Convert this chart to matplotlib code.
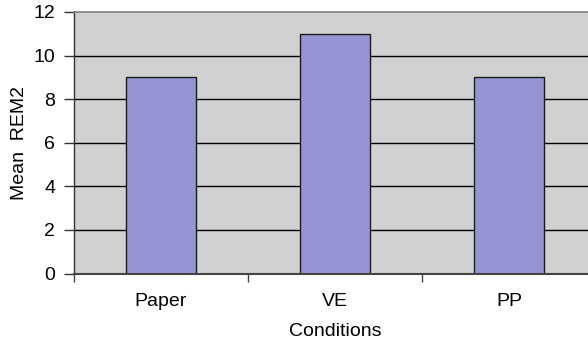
import matplotlib
matplotlib.use("Agg")
import matplotlib.pyplot as plt
import numpy as np

conditions = ["Paper", "VE", "PP"]
mean_rem2 = [9, 11, 9]
y_ticks = [0, 2, 4, 6, 8, 10, 12]

plt.rcParams["font.family"] = ["Liberation Sans", "DejaVu Sans"]

W, H = 588, 344
fig = plt.figure(figsize=(W / 100, H / 100), dpi=100)
left, right, top, bottom = 74, 596, 12, 273.5
ax = fig.add_axes([left / W, (H - bottom) / H, (right - left) / W, (bottom - top) / H])

ax.set_facecolor("#D1D1D1")
x = np.arange(len(conditions))
ax.set_xlim(-0.5, len(conditions) - 0.5)
ax.set_ylim(0, 12)

for yv in y_ticks[1:-1]:
    ax.axhline(yv, color="black", lw=1.0, zorder=1)

ax.bar(x, mean_rem2, width=0.4, color="#9595D3", edgecolor="#1a1a1a",
       linewidth=1.0, zorder=2)

ax.spines["right"].set_visible(False)
ax.spines["top"].set_color("#808080")
ax.spines["top"].set_linewidth(1.2)
ax.spines["left"].set_color("#333333")
ax.spines["bottom"].set_color("#444444")
ax.spines["left"].set_linewidth(1.0)
ax.spines["bottom"].set_linewidth(1.5)

ax.set_yticks(y_ticks)
ax.tick_params(axis="y", direction="out", length=7, width=1.0, color="#333333",
               labelsize=14, pad=6.5)
ax.set_xticks(x)
ax.set_xticklabels(conditions)
ax.set_xticks(np.arange(-0.5, len(conditions), 1.0), minor=True)
ax.tick_params(axis="x", which="major", length=0, labelsize=14, pad=14)
ax.tick_params(axis="x", which="minor", direction="out", length=6, width=1.0,
               color="#444444")

ax.set_ylabel("Mean  REM2", fontsize=14)
ax.yaxis.set_label_coords(-(left - 28) / (right - left), 0.5)
ax.set_xlabel("Conditions", fontsize=14)
ax.xaxis.set_label_coords(0.5, -(323 - bottom) / (bottom - top))

fig.savefig("out.png", dpi=100)
